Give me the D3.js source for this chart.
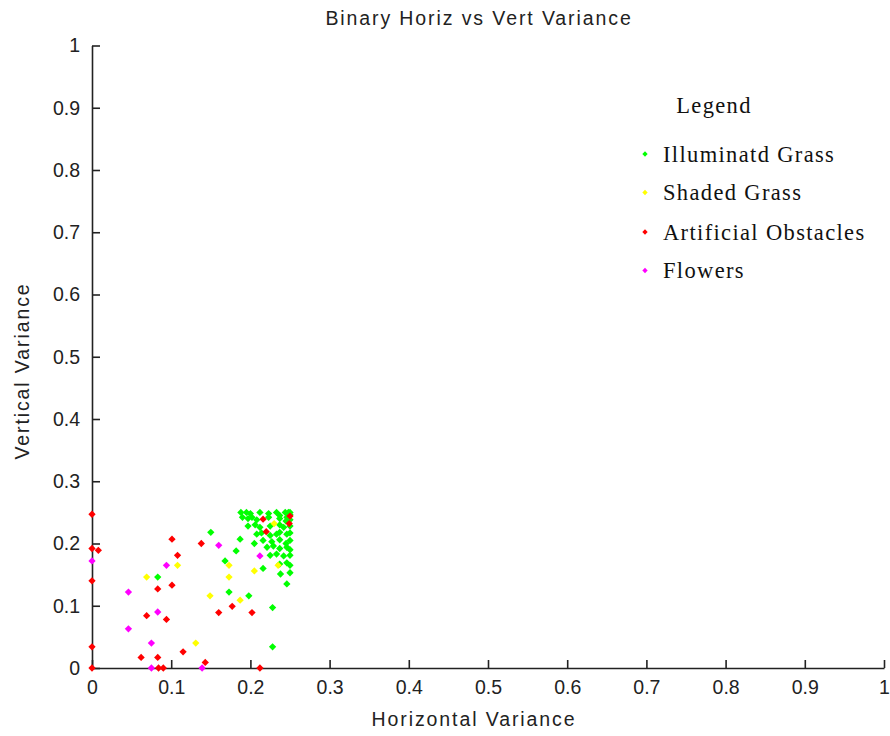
<!DOCTYPE html>
<html>
<head>
<meta charset="utf-8">
<script src="https://cdn.jsdelivr.net/npm/d3@7"></script>
<style>
  html, body { margin: 0; padding: 0; background: #fff; }
  svg { display: block; }
</style>
</head>
<body>
<svg id="chart" width="890" height="736"></svg>
<script>
// Binary texture variance per sample: [horizontal, vertical]
const illuminatedGrass = [
  [0.25, 0.25], [0.150, 0.218], [0.187, 0.207], [0.182, 0.188], [0.205, 0.200],
  [0.168, 0.172], [0.173, 0.122], [0.198, 0.116], [0.228, 0.097], [0.228, 0.034],
  [0.216, 0.160], [0.083, 0.146],
  [0.188, 0.25], [0.195, 0.25], [0.200, 0.248], [0.212, 0.25], [0.223, 0.248],
  [0.233, 0.25], [0.237, 0.245], [0.244, 0.25], [0.248, 0.25], [0.25, 0.246],
  [0.190, 0.242], [0.197, 0.240], [0.202, 0.242], [0.208, 0.238], [0.223, 0.242],
  [0.237, 0.240], [0.246, 0.242], [0.25, 0.238], [0.245, 0.236],
  [0.197, 0.228], [0.206, 0.230], [0.212, 0.226], [0.225, 0.228], [0.237, 0.230],
  [0.242, 0.226], [0.25, 0.228],
  [0.208, 0.215], [0.214, 0.217], [0.225, 0.213], [0.233, 0.215], [0.237, 0.218],
  [0.246, 0.215], [0.25, 0.217],
  [0.216, 0.205], [0.227, 0.203], [0.237, 0.206], [0.25, 0.205], [0.245, 0.200],
  [0.221, 0.194], [0.229, 0.196], [0.237, 0.192], [0.246, 0.194], [0.25, 0.190],
  [0.225, 0.181], [0.233, 0.183], [0.242, 0.180], [0.25, 0.181],
  [0.237, 0.167], [0.246, 0.169], [0.25, 0.165],
  [0.238, 0.151], [0.25, 0.153],
  [0.246, 0.135]
];

const shadedGrass = [
  [0.069, 0.146], [0.108, 0.165], [0.173, 0.165], [0.173, 0.146], [0.149, 0.116],
  [0.187, 0.109], [0.205, 0.156], [0.230, 0.232], [0.235, 0.165], [0.131, 0.040]
];

const artificialObstacles = [
  [0.000, 0.247], [0.000, 0.192], [0.008, 0.189], [0.101, 0.207], [0.108, 0.181],
  [0.000, 0.140], [0.083, 0.127], [0.101, 0.133], [0.069, 0.084], [0.094, 0.078],
  [0.000, 0.034], [0.062, 0.017], [0.083, 0.017], [0.115, 0.026], [0.000, 0.000],
  [0.084, 0.000], [0.090, 0.000], [0.138, 0.200], [0.216, 0.239], [0.250, 0.244],
  [0.249, 0.232], [0.220, 0.219], [0.160, 0.089], [0.177, 0.099], [0.202, 0.089],
  [0.143, 0.009], [0.212, 0.000]
];

const flowers = [
  [0.000, 0.172], [0.094, 0.165], [0.046, 0.122], [0.083, 0.090], [0.046, 0.063],
  [0.075, 0.040], [0.075, 0.000], [0.160, 0.197], [0.212, 0.180], [0.139, 0.000]
];

const seriesNames = ["Illuminatd Grass", "Shaded Grass", "Artificial Obstacles", "Flowers"];
const seriesColors = ["#00ff00", "#ffff00", "#ff0000", "#ff00ff"];
const seriesData = [illuminatedGrass, shadedGrass, artificialObstacles, flowers];

const tickValues = [0, 0.1, 0.2, 0.3, 0.4, 0.5, 0.6, 0.7, 0.8, 0.9, 1];

const svg = d3.select("#chart");
const plotLeft = 92, plotRight = 884, plotTop = 45.5, plotBottom = 668;

const x = d3.scaleLinear().domain([0, 1]).range([plotLeft, plotRight]);
const y = d3.scaleLinear().domain([0, 1]).range([plotBottom, plotTop]);

const fmt = d => d === 0 ? "0" : d === 1 ? "1" : d3.format(".1f")(d);
const sansFont = "'Liberation Sans', Arial, sans-serif";

// Axes with inward ticks
const xAxis = d3.axisBottom(x).tickValues(tickValues).tickFormat(fmt).tickSizeInner(-8).tickSizeOuter(0).tickPadding(12);
const yAxis = d3.axisLeft(y).tickValues(tickValues).tickFormat(fmt).tickSizeInner(-8).tickSizeOuter(0).tickPadding(12);

const gx = svg.append("g").attr("transform", `translate(0,${plotBottom})`).call(xAxis);
const gy = svg.append("g").attr("transform", `translate(${plotLeft},0)`).call(yAxis);

[gx, gy].forEach(g => {
  g.select(".domain").attr("stroke", "#222").attr("stroke-width", 1.6);
  g.selectAll(".tick line").attr("stroke", "#222").attr("stroke-width", 1.6);
  g.selectAll(".tick text").attr("fill", "#222").style("font-family", sansFont).style("font-size", "19.5px");
});
gx.selectAll(".tick text").attr("dy", "0.71em");

// Scatter markers (diamonds)
const diamond = d3.symbol().type(d3.symbolDiamond2).size(34);
seriesData.forEach((pts, i) => {
  svg.append("g").selectAll("path")
    .data(pts)
    .join("path")
    .attr("d", diamond)
    .attr("transform", d => `translate(${x(d[0])},${y(d[1])})`)
    .attr("fill", seriesColors[i]);
});

// Title and axis labels
const labelStyle = sel => sel
  .attr("text-anchor", "middle")
  .style("font-family", sansFont).style("font-size", "19.5px")
  .style("letter-spacing", "1.9px").attr("fill", "#222");

svg.append("text")
  .attr("x", 479).attr("y", 25)
  .call(labelStyle)
  .text("Binary Horiz vs Vert Variance");

svg.append("text")
  .attr("x", 474).attr("y", 726)
  .call(labelStyle)
  .text("Horizontal Variance");

svg.append("text")
  .attr("transform", "translate(29,371) rotate(-90)")
  .call(labelStyle)
  .text("Vertical Variance");

// Legend
const serifFont = "'Liberation Serif', 'Times New Roman', serif";
const legend = svg.append("g");
legend.append("text")
  .attr("x", 714).attr("y", 113)
  .attr("text-anchor", "middle")
  .style("font-family", serifFont).style("font-size", "22.5px")
  .style("letter-spacing", "1.35px").attr("fill", "#111")
  .text("Legend");

const legendSymbol = d3.symbol().type(d3.symbolDiamond2).size(18);
const legendY = [154, 192.5, 232, 270.5];
seriesNames.forEach((name, i) => {
  legend.append("path")
    .attr("d", legendSymbol)
    .attr("transform", `translate(645,${legendY[i]})`)
    .attr("fill", seriesColors[i]);
  legend.append("text")
    .attr("x", 663).attr("y", legendY[i] + 7.5)
    .style("font-family", serifFont).style("font-size", "22.5px")
    .style("letter-spacing", "1.35px").attr("fill", "#111")
    .text(name);
});
</script>
</body>
</html>
